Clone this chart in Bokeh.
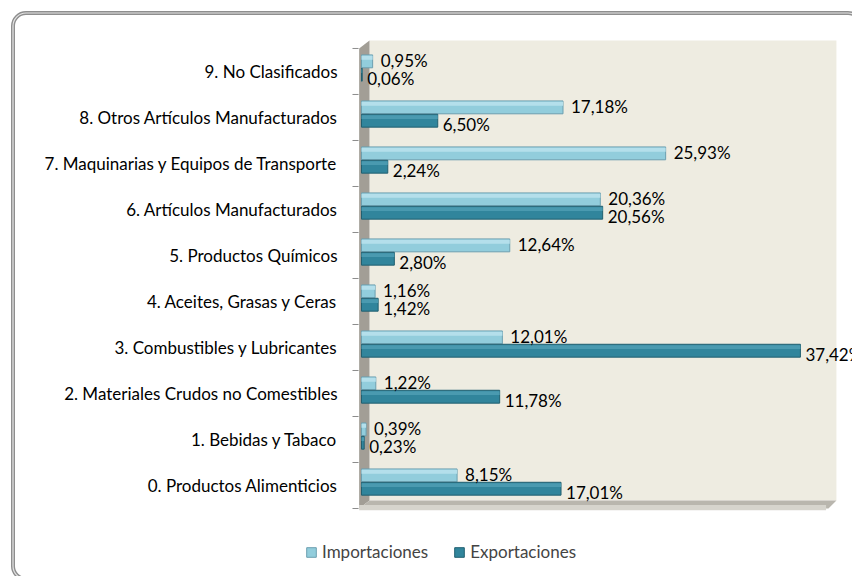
from urllib.parse import quote
from bokeh.plotting import figure
from bokeh.models import ColumnDataSource, FixedTicker, Legend, LegendItem, Range1d
from bokeh.core.properties import value
from bokeh.embed import file_html
from bokeh.resources import INLINE

categories = [
    "0. Productos Alimenticios",
    "1. Bebidas y Tabaco",
    "2. Materiales Crudos no Comestibles",
    "3. Combustibles y Lubricantes",
    "4. Aceites, Grasas y Ceras",
    "5. Productos Químicos",
    "6. Artículos Manufacturados",
    "7. Maquinarias y Equipos de Transporte",
    "8. Otros Artículos Manufacturados",
    "9. No Clasificados",
]
importaciones = [8.15, 0.39, 1.22, 12.01, 1.16, 12.64, 20.36, 25.93, 17.18, 0.95]
exportaciones = [17.01, 0.23, 11.78, 37.42, 1.42, 2.80, 20.56, 2.24, 6.50, 0.06]
series_names = ["Importaciones", "Exportaciones"]

FONT = "Lato"
FS = "17px"
W, H = 852, 576

def fmt(v):
    return f"{v:.2f}".replace(".", ",") + "%"

idx = list(range(len(categories)))
OFF_I, OFF_E, BH = 0.22, -0.07, 0.28
src = ColumnDataSource(dict(
    y_imp=[i + OFF_I for i in idx],
    y_exp=[i + OFF_E for i in idx],
    y_imp_hi=[i + OFF_I + BH * 0.28 for i in idx],
    y_exp_hi=[i + OFF_E + BH * 0.28 for i in idx],
    imp=importaciones,
    exp=exportaciones,
    imp_lbl=[fmt(v) for v in importaciones],
    exp_lbl=[fmt(v) for v in exportaciones],
))

FRAME_LEFT = 300
XMIN, XMAX = -5.2, 41.86
YMIN, YMAX = -1.978, 10.543
p = figure(width=W, height=H, output_backend="svg", toolbar_location=None,
           x_range=Range1d(XMIN, XMAX), y_range=Range1d(YMIN, YMAX),
           x_axis_location=None, y_axis_location="left",
           min_border_left=FRAME_LEFT, min_border_right=0, min_border_top=0, min_border_bottom=0)
p.background_fill_alpha = 0
p.border_fill_alpha = 0
p.outline_line_color = None
p.xgrid.visible = False
p.ygrid.visible = False

# rounded outer chart border (page decoration, drawn behind the transparent canvas)
svg = ("<svg xmlns='http://www.w3.org/2000/svg' width='852' height='576'>"
       "<rect x='13' y='13' width='848' height='566' rx='13' ry='13' fill='none' "
       "stroke='#8E8E8E' stroke-width='4'/>"
       "<rect x='13' y='13' width='848' height='566' rx='13' ry='13' fill='none' "
       "stroke='#E4E4E4' stroke-width='1.2'/></svg>")
p.styles = {"background": f"url(\"data:image/svg+xml,{quote(svg)}\") no-repeat, #ffffff"}

# 3D walls
n = len(categories)
DX, DY = 0.682, 0.174
BACK_R = 40.49
lo, hi = -0.5, n - 0.5
p.quad(left=DX, right=BACK_R, bottom=lo + DY, top=hi + DY, fill_color="#EEECE1", line_color=None)
p.patch([-0.2, -0.2, DX, DX], [lo, hi, hi + DY, lo + DY], fill_color="#A29E96", line_color=None)
p.patch([-0.2, DX, BACK_R, BACK_R - DX], [lo, lo + DY, lo + DY, lo], fill_color="#B9B6AE", line_color=None)
p.quad(left=-0.2, right=BACK_R - DX - 0.2, bottom=lo - 0.04, top=lo + DY * 0.45, fill_color="#D6D4CD", line_color=None)

# tick marks at category boundaries
bounds = [b - 0.5 for b in range(n + 1)]
p.segment(x0=[-0.767] * len(bounds), x1=[-0.25] * len(bounds), y0=bounds, y1=bounds,
          line_color="#8C8C8C", line_width=1)

# bars
r_imp = p.hbar(y="y_imp", left=0, right="imp", height=BH, source=src,
               fill_color="#92CDDC", line_color="#6C9FB0", line_width=1)
p.hbar(y="y_imp_hi", left=0, right="imp", height=BH * 0.3, source=src,
       fill_color="#B4DFEB", line_color=None)
r_exp = p.hbar(y="y_exp", left=0, right="exp", height=BH, source=src,
               fill_color="#31859C", line_color="#215F70", line_width=1)
p.hbar(y="y_exp_hi", left=0, right="exp", height=BH * 0.3, source=src,
       fill_color="#4A9AB0", line_color=None)

# data labels
p.text(x="imp", y="y_imp", text="imp_lbl", source=src, x_offset=8, y_offset=-1,
       text_baseline="middle", text_align="left", text_font=value(FONT),
       text_font_size=FS, text_color="#000000")
p.text(x="exp", y="y_exp", text="exp_lbl", source=src, x_offset=5, y_offset=4,
       text_baseline="middle", text_align="left", text_font=value(FONT),
       text_font_size=FS, text_color="#000000")

# category axis (labels end at x=337, i.e. 37 px inside the frame's left edge)
ax = p.yaxis[0]
ax.ticker = FixedTicker(ticks=idx)
ax.major_label_overrides = {i: c for i, c in zip(idx, categories)}
ax.axis_line_color = None
ax.major_tick_line_color = None
ax.minor_tick_line_color = None
ax.major_tick_out = 0
ax.major_tick_in = 0
ax.major_label_standoff = -37
ax.major_label_text_font = FONT
ax.major_label_text_font_size = FS
ax.major_label_text_color = "#000000"

legend = Legend(items=[LegendItem(label=series_names[0], renderers=[r_imp]),
                       LegendItem(label=series_names[1], renderers=[r_exp])],
                orientation="horizontal", location=(305 - FRAME_LEFT, 14), padding=0, margin=0,
                spacing=25, glyph_width=12, glyph_height=12, label_standoff=5,
                label_text_font=FONT, label_text_font_size=FS,
                background_fill_alpha=0, border_line_color=None)
p.add_layout(legend)

open("out.html", "w").write(file_html(p, INLINE))
